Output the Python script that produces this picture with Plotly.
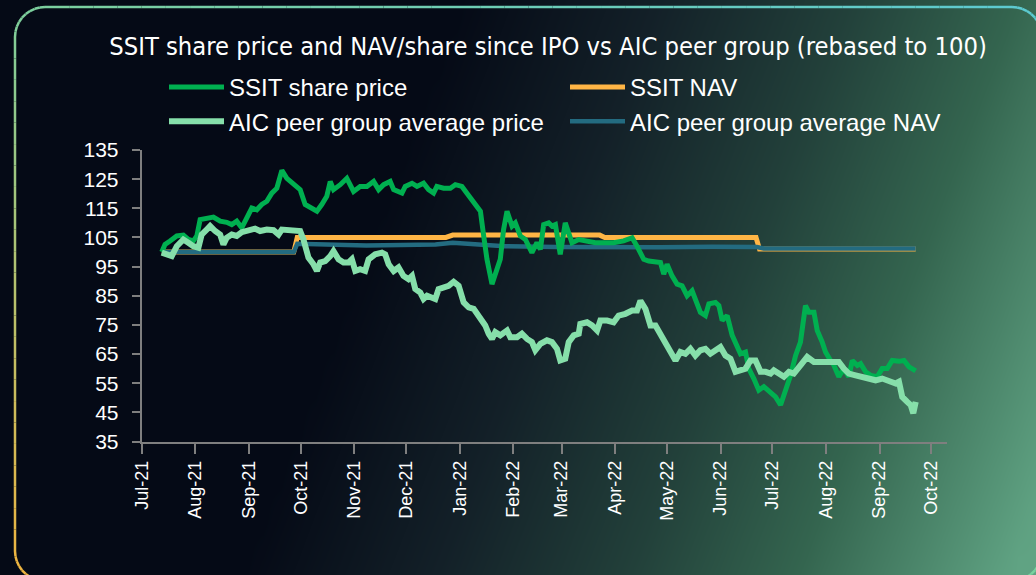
import numpy as np
import pandas as pd
import plotly.graph_objects as go

BASE_DATE = "2021-07-01"
TITLE = "SSIT share price and NAV/share since IPO vs AIC peer group (rebased to 100)"

# SSIT share price (days since BASE_DATE, rebased value)
price_days = [11.6, 13.5, 16.4, 20.3, 24.1, 27.0, 29.9, 31.9, 33.8, 37.6, 41.5, 45.4, 49.2, 52.1, 55.0, 57.9,
              60.8, 63.7, 66.6, 69.5, 72.4, 75.3, 78.2, 81.1, 84.0, 87.8, 91.7, 94.6, 97.5, 101.4, 104.2, 107.1,
              109.1, 111.0, 114.9, 118.7, 122.6, 126.4, 130.3, 134.2, 137.1, 140.0, 143.8, 145.8, 150.6, 152.5,
              156.4, 159.3, 163.1, 166.0, 168.9, 170.8, 174.7, 178.6, 181.5, 185.3, 188.2, 192.1, 196.0, 197.9,
              199.8, 202.7, 205.6, 207.5, 209.4, 211.4, 214.3, 216.2, 219.1, 222.0, 225.8, 228.7, 230.7, 232.6,
              235.5, 237.4, 239.4, 242.2, 245.1, 247.1, 249.0, 252.9, 257.7, 262.5, 267.3, 273.1, 278.9, 283.8,
              286.6, 290.5, 293.4, 297.3, 300.2, 302.1, 304.0, 306.9, 309.8, 312.7, 315.6, 318.5, 320.4, 323.3,
              326.2, 328.2, 332.0, 334.0, 335.9, 338.8, 341.7, 344.6, 346.5, 349.4, 351.3, 354.2, 357.1, 360.0,
              363.9, 366.8, 369.7, 372.6, 375.5, 378.4, 381.2, 384.1, 386.1, 389.0, 390.9, 393.8, 395.7, 398.6,
              400.6, 403.4, 406.3, 409.2, 411.2, 414.1, 416.0, 418.9, 421.8, 425.6, 428.5, 431.4, 434.3, 438.2,
              441.1, 444.0, 447.9]
price_vals = [100.0, 102.6, 103.8, 105.5, 105.8, 104.3, 103.8, 105.5, 111.1, 111.7, 112.0, 110.6, 110.2, 109.4,
              110.6, 108.3, 111.7, 115.1, 114.5, 116.3, 117.4, 120.2, 121.9, 128.0, 125.3, 123.6, 121.4, 116.3,
              115.1, 114.0, 116.3, 119.1, 124.2, 121.4, 123.1, 125.3, 120.8, 122.5, 122.5, 124.2, 121.4, 123.1,
              124.2, 121.4, 120.2, 122.5, 123.6, 122.5, 123.6, 121.4, 120.2, 122.5, 121.9, 121.9, 123.1, 122.5,
              120.2, 116.8, 114.0, 105.5, 97.5, 89.0, 93.5, 97.5, 107.7, 114.0, 108.9, 110.0, 105.5, 104.3, 99.8,
              103.2, 100.9, 109.4, 110.0, 108.9, 109.4, 99.2, 110.0, 106.6, 103.2, 104.3, 103.8, 103.2, 103.2,
              103.2, 103.8, 104.9, 102.0, 97.5, 96.9, 96.4, 96.4, 92.4, 95.8, 91.8, 89.0, 88.4, 85.0, 86.7, 83.9,
              79.3, 78.2, 82.2, 82.7, 81.6, 76.5, 78.2, 71.4, 68.0, 65.1, 65.7, 60.0, 56.6, 52.6, 53.8, 52.0, 50.3,
              47.5, 52.0, 57.7, 64.5, 69.1, 81.6, 79.3, 79.3, 73.1, 69.1, 65.7, 62.8, 61.1, 57.2, 60.0, 57.2, 62.8,
              61.1, 61.7, 58.9, 57.7, 57.2, 60.0, 60.0, 62.8, 62.5, 62.8, 60.6, 59.2]

# AIC peer group average price
peer_price_days = [11.6, 14.5, 17.4, 20.3, 24.1, 27.0, 29.9, 32.8, 34.7, 37.6, 39.6, 42.5, 45.4, 47.3, 49.2, 52.1,
                   55.0, 57.9, 61.8, 65.6, 68.5, 72.4, 76.3, 79.2, 81.1, 85.0, 88.8, 91.7, 93.6, 96.5, 99.4, 101.4,
                   103.3, 106.2, 109.1, 111.0, 113.9, 116.8, 119.7, 121.6, 123.6, 126.4, 129.3, 131.3, 135.1, 139.0,
                   140.9, 142.9, 145.8, 148.6, 151.5, 154.4, 156.4, 158.3, 161.2, 163.1, 165.1, 167.0, 169.9, 171.8,
                   174.7, 177.6, 180.5, 183.4, 186.3, 189.2, 192.1, 196.0, 198.8, 200.8, 202.7, 204.6, 207.5, 211.4,
                   213.3, 217.2, 220.0, 223.0, 225.8, 227.8, 230.7, 234.5, 237.4, 240.3, 242.2, 245.1, 247.1, 250.0,
                   252.9, 253.8, 257.7, 260.6, 263.5, 265.4, 269.3, 273.1, 276.0, 279.9, 283.8, 286.6, 288.6, 291.5,
                   294.4, 297.3, 300.2, 303.1, 306.0, 308.9, 311.7, 314.6, 317.5, 320.4, 323.3, 326.2, 329.1, 332.0,
                   334.9, 337.8, 340.7, 343.6, 346.5, 349.4, 352.3, 355.2, 358.1, 361.0, 363.9, 365.8, 368.7, 371.6,
                   374.5, 377.4, 381.2, 385.1, 389.0, 392.8, 396.7, 400.6, 403.4, 406.3, 409.2, 413.1, 417.0, 420.8,
                   424.7, 428.5, 432.4, 436.3, 438.2, 440.1, 443.0, 445.0, 446.5, 447.9]
peer_price_vals = [99.8, 99.2, 98.6, 102.0, 104.3, 103.2, 102.0, 101.5, 106.0, 107.7, 108.9, 107.2, 106.0, 102.6,
                   104.9, 106.0, 105.5, 106.8, 107.5, 108.0, 107.2, 107.7, 107.5, 106.0, 107.7, 107.7, 107.7, 107.2,
                   104.3, 98.1, 95.8, 93.5, 96.4, 96.9, 98.6, 100.3, 97.5, 96.4, 96.4, 97.5, 93.5, 94.1, 93.5, 97.5,
                   99.2, 99.8, 99.2, 95.8, 93.5, 94.7, 91.8, 90.7, 91.8, 87.3, 86.1, 83.9, 85.0, 84.4, 83.9, 87.3,
                   87.8, 88.4, 89.8, 88.4, 82.7, 81.0, 80.5, 77.6, 74.8, 71.9, 70.2, 72.5, 71.4, 73.1, 70.8, 70.8,
                   72.0, 70.2, 69.1, 66.3, 68.5, 69.7, 69.1, 66.8, 62.8, 63.4, 69.1, 71.4, 72.0, 75.3, 75.9, 74.8,
                   73.1, 76.5, 76.5, 75.9, 78.2, 78.8, 79.9, 79.9, 83.3, 80.5, 74.8, 74.8, 72.0, 68.5, 66.3, 62.8,
                   65.7, 65.1, 66.8, 64.5, 66.3, 66.8, 65.1, 66.3, 67.4, 64.5, 63.4, 58.9, 59.4, 60.0, 62.8, 62.8,
                   58.9, 58.9, 58.3, 59.4, 58.3, 57.2, 58.9, 58.3, 61.1, 64.0, 62.3, 62.3, 62.8, 62.8, 62.3, 60.0,
                   58.3, 57.7, 57.2, 56.6, 56.0, 56.6, 55.5, 54.9, 55.5, 50.3, 48.6, 47.5, 44.7, 48.6]

# SSIT NAV per share
nav_days = [11.6, 88.0, 90.0, 176.0, 180.0, 265.0, 268.0, 355.5, 357.5, 447.9]
nav_vals = [100.0, 100.0, 105.0, 105.0, 105.8, 105.8, 105.0, 105.0, 101.0, 101.0]

# AIC peer group average NAV
peer_nav_days = [11.6, 88.0, 90.0, 110.0, 130.0, 150.0, 170.0, 180.0, 195.0, 210.0, 240.0, 270.0, 300.0,
                 330.0, 356.0, 360.0, 400.0, 447.9]
peer_nav_vals = [100.0, 100.0, 102.8, 102.4, 102.2, 102.4, 102.6, 103.2, 102.6, 102.0, 101.7, 101.6, 101.6,
                 101.8, 101.7, 101.2, 101.2, 101.2]

y_ticks = [35, 45, 55, 65, 75, 85, 95, 105, 115, 125, 135]

COLORS = {
    "price": "#00b050",
    "nav": "#ffb545",
    "peer_price": "#86dfaa",
    "peer_nav": "#236b80",
}

W, H = 1036, 575
FONT = "Liberation Sans, Arial, sans-serif"


def to_dates(days):
    return pd.Timestamp(BASE_DATE) + pd.to_timedelta(np.array(days), unit="D")


fig = go.Figure()

# ---- background gradient (decorative) ----
gx = np.linspace(0, W, 60)
gy = np.linspace(0, H, 34)
GX, GY = np.meshgrid(gx, gy)
T = np.clip(0.0013 * (GX - 465) + 0.0005 * GY, 0, 1)
fig.add_trace(go.Heatmap(
    x=gx, y=gy, z=T, zmin=0, zmax=1, zsmooth="best", showscale=False, hoverinfo="skip",
    colorscale=[[0, "#050a16"], [0.25, "#132028"], [0.5, "#22403a"], [0.72, "#34654f"], [1, "#60a383"]],
    xaxis="x", yaxis="y", showlegend=False,
))

# ---- data series ----
fig.add_trace(go.Scatter(x=to_dates(nav_days), y=nav_vals, mode="lines", name="SSIT NAV",
                         line=dict(color=COLORS["nav"], width=5), legendrank=2,
                         xaxis="x2", yaxis="y2"))
fig.add_trace(go.Scatter(x=to_dates(peer_nav_days), y=peer_nav_vals, mode="lines",
                         name="AIC peer group average NAV",
                         line=dict(color=COLORS["peer_nav"], width=4.5), legendrank=4,
                         xaxis="x2", yaxis="y2"))
fig.add_trace(go.Scatter(x=to_dates(price_days), y=price_vals, mode="lines", name="SSIT share price",
                         line=dict(color=COLORS["price"], width=5), legendrank=1,
                         xaxis="x2", yaxis="y2"))
fig.add_trace(go.Scatter(x=to_dates(peer_price_days), y=peer_price_vals, mode="lines",
                         name="AIC peer group average price",
                         line=dict(color=COLORS["peer_price"], width=6), legendrank=3,
                         xaxis="x2", yaxis="y2"))

# ---- rounded border with colour gradient (decorative) ----
bx0, by0, bx1, by1, r = 15, 7, 1042, 581, 30
pts = []
def arc(cx, cy, a0, a1, n=10):
    for a in np.linspace(a0, a1, n):
        pts.append((cx + r * np.cos(a), cy + r * np.sin(a)))
def seg(p, q, n):
    for t in np.linspace(0, 1, n, endpoint=False)[1:]:
        pts.append((p[0] + (q[0] - p[0]) * t, p[1] + (q[1] - p[1]) * t))
arc(bx0 + r, by0 + r, np.pi, 1.5 * np.pi)
seg((bx0 + r, by0), (bx1 - r, by0), 40)
arc(bx1 - r, by0 + r, 1.5 * np.pi, 2 * np.pi)
seg((bx1, by0 + r), (bx1, by1 - r), 20)
arc(bx1 - r, by1 - r, 0, 0.5 * np.pi)
seg((bx1 - r, by1), (bx0 + r, by1), 40)
arc(bx0 + r, by1 - r, 0.5 * np.pi, np.pi)
seg((bx0, by1 - r), (bx0, by0 + r), 24)
pts.append(pts[0])

G = np.array([124, 208, 158]); TL = np.array([92, 202, 210]); O = np.array([242, 180, 62]); G2 = np.array([120, 212, 160])
shapes = []
for (xa, ya), (xb, yb) in zip(pts[:-1], pts[1:]):
    u = ((xa + xb) / 2) / W
    w = ((ya + yb) / 2) / H
    u = min(max(u, 0), 1); w = min(max(w, 0), 1)
    c = G * (1 - u) * (1 - w) + TL * u * (1 - w) + O * (1 - u) * w + G2 * u * w
    shapes.append(dict(type="line", xref="x", yref="y", x0=xa, y0=ya, x1=xb, y1=yb,
                       line=dict(color="rgb(%d,%d,%d)" % tuple(c.astype(int)), width=2.5)))

axis_grey = "#7f7f7f"
fig.update_layout(
    width=W, height=H, autosize=False,
    margin=dict(l=0, r=0, t=0, b=0, pad=0, autoexpand=False),
    paper_bgcolor="#050a16",
    plot_bgcolor="rgba(0,0,0,0)",
    shapes=shapes,
    title=dict(text=TITLE, x=0.529, y=1 - 46 / H, xanchor="center", yanchor="middle", automargin=False,
               font=dict(family="DejaVu Sans Condensed, sans-serif", size=25.3, color="white")),
    xaxis=dict(domain=[0, 1], range=[0, W], visible=False, fixedrange=True, automargin=False),
    yaxis=dict(domain=[0, 1], range=[H, 0], visible=False, fixedrange=True, automargin=False),
    xaxis2=dict(domain=[141.7 / W, 947 / W], anchor="y2", type="date", automargin=False,
                range=["2021-07-01", "2022-10-10"], tick0="2021-07-01", dtick="M1", tickformat="%b-%y",
                tickangle=-90, ticks="outside", ticklen=10, tickwidth=2, tickcolor=axis_grey,
                showline=True, linecolor=axis_grey, linewidth=2, showgrid=False, zeroline=False,
                tickfont=dict(family=FONT, size=18, color="white")),
    yaxis2=dict(domain=[(H - 441.5) / H, (H - 150) / H], anchor="x2", range=[35, 135], automargin=False,
                tickmode="array", tickvals=y_ticks, ticks="outside", ticklen=8, tickwidth=2,
                tickcolor=axis_grey, showline=True, linecolor=axis_grey, linewidth=2,
                showgrid=False, zeroline=False, ticklabelstandoff=9,
                tickfont=dict(family=FONT, size=21, color="white")),
    legend=dict(orientation="h", x=164 / W, y=1 - 65 / H, xanchor="left", yanchor="top",
                entrywidth=331, entrywidthmode="pixels", itemwidth=55,
                bgcolor="rgba(0,0,0,0)", font=dict(family=FONT, size=24, color="white")),
    showlegend=True,
)

fig.write_html("out.html", config={"displayModeBar": False},
               post_script="document.body.style.margin='0';document.body.style.overflow='hidden';")
